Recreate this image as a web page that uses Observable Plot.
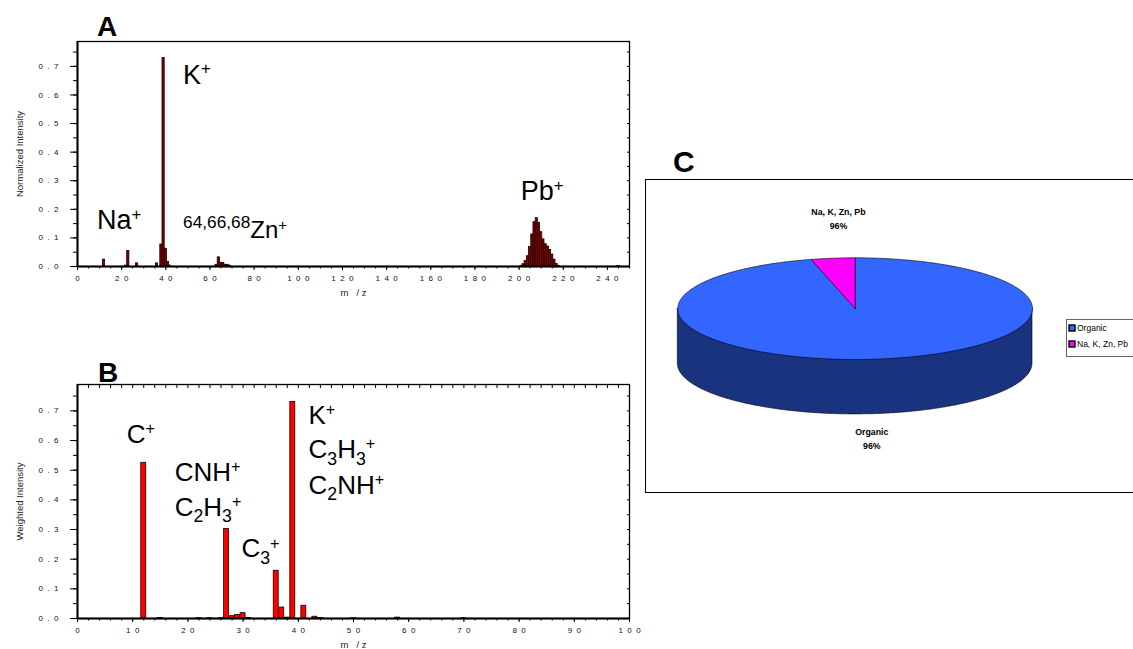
<!DOCTYPE html>
<html>
<head>
<meta charset="utf-8">
<script src="https://cdn.jsdelivr.net/npm/d3@7"></script>
<script src="https://cdn.jsdelivr.net/npm/@observablehq/plot@0.6"></script>
<style>
html,body{margin:0;padding:0;background:#fff;overflow:hidden;}
#page{position:relative;width:1133px;height:649px;overflow:hidden;background:#fff;font-family:"Liberation Sans",Arial,sans-serif;}
.panel{position:absolute;}
.letter{position:absolute;font-weight:bold;line-height:1;font-family:"Liberation Sans",Arial,sans-serif;color:#000;}
[aria-label="x-axis tick label"] text,[aria-label="y-axis tick label"] text{font-size:8px;fill:#111;}
[aria-label="y-axis label"] text{font-size:9.5px;fill:#222;}
[aria-label="x-axis label"] text{font-size:9.5px;fill:#222;}
#lg{border:1px solid #666;background:#fff;padding:0 30px 0 2px;}
#lg [class$="-swatch"]{height:16px;margin:0;padding:0;line-height:16px;}
#lg svg{margin-right:2px !important;}
#lg rect{stroke:#000;stroke-width:1.4px;}
</style>
</head>
<body>
<div id="page">
  <div id="pa" class="panel" style="left:0;top:0"></div>
  <div id="pb" class="panel" style="left:0;top:340px"></div>
  <div id="pc" class="panel" style="left:645px;top:179px;width:520px;height:314px;border:1px solid #000;box-sizing:border-box"></div>
  <div id="lg" class="panel" style="left:1066px;top:319px"></div>
  <div class="letter" style="left:97px;top:13px;font-size:28px">A</div>
  <div class="letter" style="left:98px;top:359px;font-size:28px">B</div>
  <div class="letter" style="left:673px;top:147px;font-size:30px">C</div>
</div>
<script>
// ---------- Data ----------
// Panel A: normalized intensity spectrum (m/z, intensity)
const mzA = [12,22,23,27,36,38,39,40,41,42,63,64,65,66,67,68,69,
  201,202,203,204,205,206,207,208,209,210,211,212,213,214,215,216,217,218,245];
const intensityA = [0.024,0.003,0.054,0.011,0.011,0.077,0.729,0.062,0.016,0.003,
  0.006,0.032,0.013,0.012,0.006,0.006,0.003,
  0.002,0.008,0.019,0.036,0.068,0.112,0.155,0.169,0.153,0.120,0.095,0.078,0.070,0.058,0.042,0.024,0.009,0.002,0.002];
// Panel B: weighted intensity spectrum
const mzB = [12,15,22,24,26,27,28,29,30,31,36,37,38,39,41,43,44,50,58,70];
const intensityB = [0.525,0.002,0.001,0.001,0.001,0.302,0.008,0.012,0.018,0.002,
  0.161,0.037,0.003,0.730,0.043,0.006,0.002,0.001,0.003,0.001];
// Tick values
const xTicksA = [0,20,40,60,80,100,120,140,160,180,200,220,240];
const xTicksB = [0,10,20,30,40,50,60,70,80,90,100];
const yTicks = [0,0.1,0.2,0.3,0.4,0.5,0.6,0.7];
// Panel C: pie
const pieNames = ["Organic","Na, K, Zn, Pb"];
const pieShares = [96,4];
const pieLabels = ["96%","96%"];
const pieTopColors = ["#3366ff","#ff00ff"];
const pieSideColors = ["#1a337f","#800080"];
// Annotations
const annotA = [
  {t:"Na^+", x:8.8, y:0.13, size:27},
  {t:"K^+", x:47.8, y:0.64, size:27},
  {t:"^{64,66,68}Zn^+", x:47.8, y:0.098, size:24},
  {t:"Pb^+", x:200.7, y:0.231, size:27}
];
const annotB = [
  {t:"C^+", x:8.9, y:0.591, size:26},
  {t:"CNH^+", x:17.6, y:0.463, size:26},
  {t:"C_2H_3^+", x:17.6, y:0.347, size:26},
  {t:"C_3^+", x:29.7, y:0.206, size:26},
  {t:"K^+", x:41.85, y:0.657, size:26},
  {t:"C_3H_3^+", x:41.85, y:0.541, size:26},
  {t:"C_2NH^+", x:41.85, y:0.421, size:26}
];

// ---------- Helpers ----------
const NB = "\u00a0\u00a0";
const spaced = s => String(s).split("").join(NB);
const fmtY = d => spaced(d3.format(".1f")(d));
const fmtX = d => spaced(d);
const FONT = "'Liberation Sans', Arial, sans-serif";

function richify(svg) {
  svg.querySelectorAll("text").forEach(el => {
    const s = el.textContent;
    if (!/[\^_]/.test(s)) return;
    const F = parseFloat(el.getAttribute("font-size") || getComputedStyle(el).fontSize);
    const segs = [];
    let i = 0;
    while (i < s.length) {
      const c = s[i];
      if (c === "^" || c === "_") {
        if (s[i+1] === "{") {
          const j = s.indexOf("}", i+2);
          segs.push({t: s.slice(i+2, j), k: c === "^" ? "pre" : "sub"});
          i = j + 1;
        } else {
          segs.push({t: s[i+1], k: c === "^" ? "sup" : "sub"});
          i += 2;
        }
      } else {
        let j = i;
        while (j < s.length && s[j] !== "^" && s[j] !== "_") j++;
        segs.push({t: s.slice(i, j), k: "n"});
        i = j;
      }
    }
    const spec = {n:[1,0], sup:[0.62,-0.34], sub:[0.68,0.26], pre:[0.72,-0.42]};
    el.textContent = "";
    let cur = 0;
    for (const g of segs) {
      const [sz, sh] = spec[g.k];
      const ts = document.createElementNS("http://www.w3.org/2000/svg", "tspan");
      ts.setAttribute("font-size", sz * F);
      const dy = sh * F - cur;
      if (dy) ts.setAttribute("dy", dy);
      cur = sh * F;
      ts.textContent = g.t;
      el.appendChild(ts);
    }
  });
}

function spectrum(o) {
  const data = o.mz.map((m, i) => ({mz: m, v: o.val[i]}));
  const marks = [
    Plot.rect(data, {x1: d => d.mz - o.half, x2: d => d.mz + o.half, y1: () => 0, y2: "v",
      fill: o.fill, stroke: o.stroke, strokeWidth: 0.8}),
    Plot.frame({stroke: "#000", strokeWidth: 1.3}),
    Plot.ruleY([0], {stroke: "#000", strokeWidth: 2}),
    Plot.ruleX([0], {stroke: "#000", strokeWidth: 2}),
    Plot.axisY(yTicks, {tickSize: 7, tickPadding: 12, tickFormat: fmtY, label: o.yLabel,
      labelAnchor: "center", labelOffset: 61, labelArrow: "none"}),
    Plot.axisY(d3.range(0, 0.76, 0.05), {tickSize: 4, tickFormat: () => "", label: null}),
    Plot.axisY(d3.range(0, 0.76, 0.05), {anchor: "right", tickSize: -3, tickFormat: () => "", label: null}),
    Plot.axisX(o.xTicks, {tickSize: 4, tickPadding: 5, tickFormat: fmtX, label: "m\u00a0\u00a0\u00a0/\u00a0z",
      labelAnchor: "center", labelOffset: 29, labelArrow: "none"}),
    Plot.axisX(o.xMinor, {tickSize: 2.5, tickFormat: () => "", label: null})
  ];
  if (o.topTicks) marks.push(Plot.axisX(o.xMinor, {anchor: "top", tickSize: -3, tickFormat: () => "", label: null}));
  marks.push(Plot.text(o.annot, {x: "x", y: "y", text: "t", fontSize: d => d.size,
    textAnchor: "start", lineAnchor: "bottom", fill: "#000"}));
  return Plot.plot({
    width: o.width, height: o.height,
    marginLeft: 77, marginRight: o.width - 629, marginTop: o.mt, marginBottom: o.mb,
    x: {domain: o.xDomain}, y: {domain: o.yDomain},
    style: {fontFamily: FONT, background: "transparent", color: "#000", overflow: "visible"},
    marks
  });
}

// ---------- Panel A ----------
const svgA = spectrum({mz: mzA, val: intensityA, half: 0.5, fill: "#800000", stroke: "#1a0000",
  xDomain: [0, 250], yDomain: [0, 0.787], xTicks: xTicksA, xMinor: d3.range(0, 251, 5),
  yLabel: "Normalized Intensity", annot: annotA, width: 640, height: 310, mt: 41, mb: 44, topTicks: false});
document.getElementById("pa").appendChild(svgA);
richify(svgA);

// ---------- Panel B ----------
const svgB = spectrum({mz: mzB, val: intensityB, half: 0.45, fill: "#ff0000", stroke: "#200000",
  xDomain: [0, 100], yDomain: [0, 0.789], xTicks: xTicksB, xMinor: d3.range(0, 101, 2),
  yLabel: "Weighted Intensity", annot: annotB, width: 640, height: 309, mt: 44, mb: 31, topTicks: true});
document.getElementById("pb").appendChild(svgB);
richify(svgB);

// ---------- Panel C (3D pie) ----------
const depth = 1.08;
const arcs = d3.pie().sort(null)(pieShares);
const slices = arcs.map((p, i) => ({name: pieNames[i], pct: pieLabels[i], a0: p.startAngle, a1: p.endAngle,
  top: pieTopColors[i], side: pieSideColors[i]}));
const topPts = slices.flatMap(s => {
  const n = Math.max(2, Math.ceil((s.a1 - s.a0) / 0.01));
  const pts = [{name: s.name, px: 0, py: 0}];
  for (let k = 0; k <= n; k++) {
    const a = s.a0 + (s.a1 - s.a0) * k / n;
    pts.push({name: s.name, px: Math.sin(a), py: -Math.cos(a)});
  }
  pts.push({name: s.name, px: 0, py: 0});
  return pts;
});
// visible side: angles between PI/2 and 3PI/2 (front half)
const sidePts = slices.flatMap(s => {
  const lo = Math.max(s.a0, Math.PI / 2), hi = Math.min(s.a1, 3 * Math.PI / 2);
  if (hi <= lo) return [];
  const n = Math.max(2, Math.ceil((hi - lo) / 0.01));
  return d3.range(n + 1).map(k => {
    const a = lo + (hi - lo) * k / n;
    return {name: s.name, side: s.side, px: Math.sin(a), py: -Math.cos(a)};
  });
});
const svgC = Plot.plot({
  width: 486, height: 312, margin: 0,
  x: {domain: [-1, 1], range: [31.3, 386]},
  y: {domain: [-1, 1], range: [77.3, 179]},
  color: {domain: pieNames, range: pieTopColors},
  axis: null,
  style: {fontFamily: FONT, background: "transparent", color: "#000", overflow: "visible"},
  marks: [
    Plot.areaY(sidePts, {x: "px", y1: "py", y2: d => d.py + depth, z: "name", fill: d => d.side,
      stroke: "#000", strokeWidth: 0.6}),
    Plot.line(topPts, {x: "px", y: "py", z: "name", fill: "name", stroke: "#000", strokeWidth: 0.6}),
    Plot.text(slices, {
      x: s => Math.sin((s.a0 + s.a1) / 2) * 0.75,
      y: s => { const yy = -Math.cos((s.a0 + s.a1) / 2); return yy > 0 ? yy * 1.47 + depth : yy * 1.8; },
      text: s => `${s.name}\n${s.pct}`, fontWeight: "bold", fontSize: 8.8, lineHeight: 1.5, fill: "#000"
    })
  ]
});
document.getElementById("pc").appendChild(svgC);

const leg = Plot.legend({color: {type: "ordinal", domain: pieNames, range: pieTopColors},
  columns: 1, swatchSize: 6, style: {fontSize: "8.5px", fontFamily: FONT, color: "#000", background: "transparent"}});
document.getElementById("lg").appendChild(leg);
</script>
</body>
</html>
